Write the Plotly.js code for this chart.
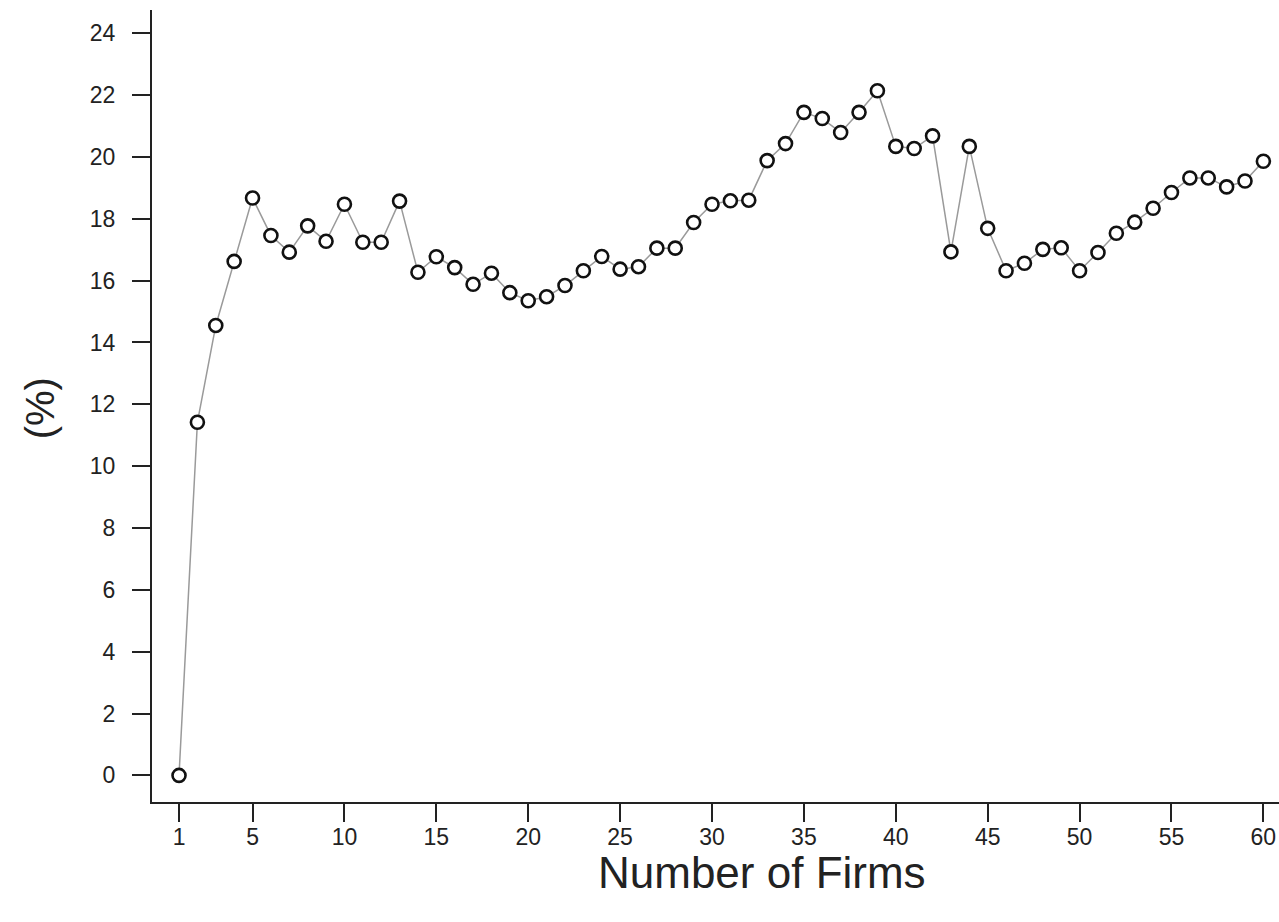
<!DOCTYPE html>
<html>
<head>
<meta charset="utf-8">
<script src="https://cdn.plot.ly/plotly-3.0.1.min.js"></script>
<style>html,body{margin:0;padding:0;background:#fff;}#chart{width:1279px;height:922px;}</style>
</head>
<body>
<div id="chart"></div>
<script>
const firms = [];
for (let i = 1; i <= 60; i++) firms.push(i);
const percent = [
  0.0, 11.42, 14.55, 16.62, 18.67, 17.46, 16.92, 17.77, 17.27, 18.47,
  17.24, 17.24, 18.57, 16.27, 16.77, 16.42, 15.88, 16.24, 15.61, 15.35,
  15.48, 15.84, 16.32, 16.78, 16.37, 16.45, 17.05, 17.05, 17.88, 18.47,
  18.58, 18.6, 19.88, 20.43, 21.44, 21.24, 20.79, 21.44, 22.14, 20.34,
  20.27, 20.68, 16.93, 20.34, 17.69, 16.32, 16.56, 17.01, 17.06, 16.32,
  16.91, 17.53, 17.89, 18.34, 18.85, 19.32, 19.32, 19.03, 19.22, 19.86
];
const xTickVals = [1, 5, 10, 15, 20, 25, 30, 35, 40, 45, 50, 55, 60];
const yTickVals = [0, 2, 4, 6, 8, 10, 12, 14, 16, 18, 20, 22, 24];

const trace = {
  x: firms, y: percent, type: 'scatter', mode: 'lines+markers',
  line: {color: '#9a9a9a', width: 1.5},
  marker: {symbol: 'circle', size: 13, color: '#ffffff', line: {color: '#111111', width: 2.6}},
  cliponaxis: false, hoverinfo: 'x+y'
};

const font = {family: 'Liberation Sans, Arial, sans-serif', color: '#222'};

const layout = {
  width: 1279, height: 922,
  margin: {l: 152, r: 0, t: 10, b: 120},
  paper_bgcolor: '#fff', plot_bgcolor: '#fff',
  showlegend: false,
  font: font,
  xaxis: {
    range: [-0.47, 60.85], tickvals: xTickVals, ticktext: xTickVals.map(String),
    showgrid: false, zeroline: false, showline: true, linecolor: '#222', linewidth: 2,
    ticks: 'outside', ticklen: 18, tickwidth: 2, tickcolor: '#222',
    tickfont: {family: font.family, size: 23, color: '#222'}, ticklabelstandoff: -5
  },
  yaxis: {
    range: [-0.86, 24.75], tickvals: yTickVals, ticktext: yTickVals.map(String),
    showgrid: false, zeroline: false, showline: true, linecolor: '#222', linewidth: 2,
    ticks: 'outside', ticklen: 18, tickwidth: 2, tickcolor: '#222',
    tickfont: {family: font.family, size: 23, color: '#222'}, ticklabelstandoff: 12
  },
  annotations: [
    {text: 'Number of Firms', xref: 'paper', yref: 'paper', x: 0.541, y: -0.089,
     xanchor: 'center', yanchor: 'middle', showarrow: false,
     font: {family: font.family, size: 44, color: '#222'}},
    {text: '(%)', xref: 'paper', yref: 'paper', x: -0.0994, y: 0.497, textangle: -90,
     xanchor: 'center', yanchor: 'middle', showarrow: false,
     font: {family: font.family, size: 40, color: '#222'}}
  ]
};

Plotly.newPlot('chart', [trace], layout, {displayModeBar: false, staticPlot: true});
</script>
</body>
</html>
